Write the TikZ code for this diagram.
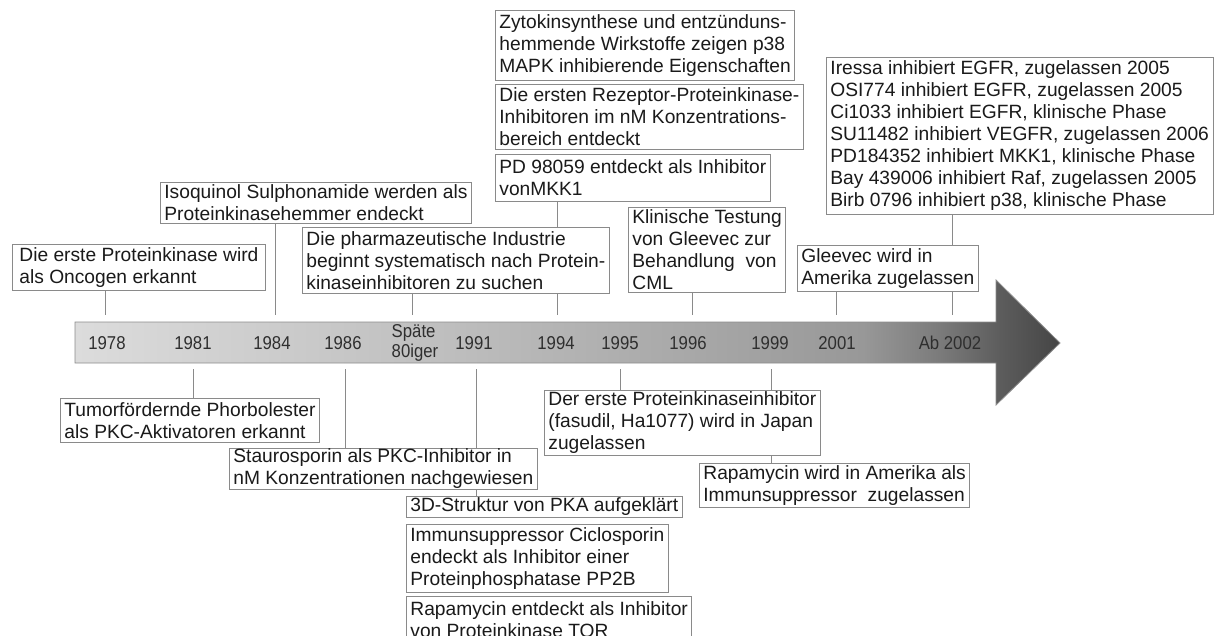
\documentclass[tikz,border=0pt]{standalone}
\usepackage{fontspec}
\usepackage{tikz}
\usetikzlibrary{positioning}
\newfontfamily\boxfont{Liberation Sans}
\newfontfamily\yearfont[FakeStretch=0.9]{Liberation Sans}
\definecolor{boxline}{HTML}{8A8A8A}
\definecolor{tickline}{HTML}{8A8A8A}
\definecolor{boxtext}{HTML}{1A1A1A}
\definecolor{yeartext}{HTML}{2E2E2E}
\definecolor{arrowline}{HTML}{8C8C8C}
\definecolor{tlA}{HTML}{DCDCDC}
\definecolor{tlB}{HTML}{BEBEBE}
\definecolor{tlC}{HTML}{989898}
\definecolor{tlD}{HTML}{7A7A7A}
\definecolor{tlE}{HTML}{5C5C5C}
\definecolor{tlF}{HTML}{454545}
\pgfdeclarehorizontalshading{timeline}{100bp}{color(0bp)=(tlA); color(25bp)=(tlA); color(44bp)=(tlB); color(65bp)=(tlC); color(69bp)=(tlD); color(72bp)=(tlE); color(75bp)=(tlF); color(100bp)=(tlF)}

\begin{document}
\begin{tikzpicture}[x=1pt,y=-1pt,
  box/.style={draw=boxline,line width=0.8pt,fill=white,anchor=north west,align=left,inner xsep=4pt,inner ysep=0.5pt,text=boxtext,font={\boxfont\fontsize{19.2}{22}\selectfont}},
  yr/.style={text=yeartext,inner sep=0pt,font={\yearfont\fontsize{18.6}{19.5}\selectfont}},
  tick/.style={draw=tickline,line width=0.8pt}]
\useasboundingbox (0,0) rectangle (1217,635);
\clip (0,0) rectangle (1217,635);
% timeline arrow
\shade[shading=timeline,draw=arrowline,line width=0.8pt] (75,322) -- (996,322) -- (996,280) -- (1060,343) -- (996,405) -- (996,363) -- (75,363) -- cycle;
% years
\node[yr] (y1978) at (107,343) {1978};
\node[yr] (y1981) at (193,343) {1981};
\node[yr] (y1984) at (272,343) {1984};
\node[yr] (y1986) at (343,343) {1986};
\node[yr,align=left] (y80) at (415,343) {Späte\\80iger};
\node[yr] (y1991) at (474,343) {1991};
\node[yr] (y1994) at (556,343) {1994};
\node[yr] (y1995) at (620,343) {1995};
\node[yr] (y1996) at (688,343) {1996};
\node[yr] (y1999) at (770,343) {1999};
\node[yr] (y2001) at (837,343) {2001};
\node[yr] (y2002) at (950,343) {Ab 2002};
% tick ends
\coordinate (t1978) at (105,315);
\coordinate (t1984) at (275,315);
\coordinate (tSp) at (412,315);
\coordinate (t1994) at (557,315);
\coordinate (t1996) at (692,315);
\coordinate (t2001) at (836,315);
\coordinate (t2002) at (952,315);
\coordinate (b1981) at (193,369);
\coordinate (b1986) at (345,369);
\coordinate (b1991) at (476,369);
\coordinate (b1995) at (620,369);
\coordinate (b1999) at (771,369);
% upper boxes
\node[box,inner xsep=7pt,minimum height=46pt] (erste) at (12,244) {Die erste Proteinkinase wird\\als Oncogen erkannt};
\node[box,minimum height=41pt] (isoq) at (160,182) {Isoquinol Sulphonamide werden als\\Proteinkinasehemmer endeckt};
\node[box,minimum height=66pt] (pharma) at (302,227) {Die pharmazeutische Industrie\\beginnt systematisch nach Protein-\\kinaseinhibitoren zu suchen};
\node[box,minimum height=70pt] (zyto) at (495,10) {Zytokinsynthese und entzünduns-\\hemmende Wirkstoffe zeigen p38\\MAPK inhibierende Eigenschaften};
\node[box,below=3pt of zyto.south west,anchor=north west,minimum height=65pt] (rezep) {Die ersten Rezeptor-Proteinkinase-\\Inhibitoren im nM Konzentrations-\\bereich entdeckt};
\node[box,below=4pt of rezep.south west,anchor=north west,minimum height=47pt] (pd) {PD 98059 entdeckt als Inhibitor\\vonMKK1};
\node[box,minimum height=85pt] (klin) at (628,207) {Klinische Testung\\von Gleevec zur\\Behandlung~~von\\CML};
\node[box,minimum height=46pt] (gleevec) at (797,245) {Gleevec wird in\\Amerika zugelassen};
\node[box,minimum height=157pt] (iressa) at (826,57) {Iressa inhibiert EGFR, zugelassen 2005\\OSI774 inhibiert EGFR, zugelassen 2005\\Ci1033 inhibiert EGFR, klinische Phase\\SU11482 inhibiert VEGFR, zugelassen 2006\\PD184352 inhibiert MKK1, klinische Phase\\Bay 439006 inhibiert Raf, zugelassen 2005\\Birb 0796 inhibiert p38, klinische Phase};
% lower boxes
\node[box,minimum height=44pt] (tumor) at (60,398) {Tumorfördernde Phorbolester\\als PKC-Aktivatoren erkannt};
\node[box,minimum height=41pt] (stauro) at (229,448) {Staurosporin als PKC-Inhibitor in\\nM Konzentrationen nachgewiesen};
\node[box,minimum height=21pt] (d3) at (406,496) {3D-Struktur von PKA aufgeklärt};
\node[box,below=6pt of d3.south west,anchor=north west,minimum height=68pt] (immun) {Immunsuppressor Ciclosporin\\endeckt als Inhibitor einer\\Proteinphosphatase PP2B};
\node[box,below=3pt of immun.south west,anchor=north west,minimum height=47pt] (rapator) {Rapamycin entdeckt als Inhibitor\\von Proteinkinase TOR};
\node[box,minimum height=65pt] (fasudil) at (544,390) {Der erste Proteinkinaseinhibitor\\(fasudil, Ha1077) wird in Japan\\zugelassen};
\node[box,minimum height=44pt] (rapaam) at (699,463) {Rapamycin wird in Amerika als\\Immunsuppressor~~zugelassen};
% connectors
\draw[tick] (erste.south -| t1978) -- (t1978);
\draw[tick] (isoq.south -| t1984) -- (t1984);
\draw[tick] (pharma.south -| tSp) -- (tSp);
\draw[tick] (pd.south -| t1994) -- (pharma.north -| t1994);
\draw[tick] (pharma.south -| t1994) -- (t1994);
\draw[tick] (klin.south -| t1996) -- (t1996);
\draw[tick] (gleevec.south -| t2001) -- (t2001);
\draw[tick] (iressa.south -| t2002) -- (gleevec.north -| t2002);
\draw[tick] (gleevec.south -| t2002) -- (t2002);
\draw[tick] (b1981) -- (b1981 |- tumor.north);
\draw[tick] (b1986) -- (b1986 |- stauro.north);
\draw[tick] (b1991) -- (b1991 |- stauro.north);
\draw[tick] (stauro.south -| b1991) -- (d3.north -| b1991);
\draw[tick] (b1995) -- (b1995 |- fasudil.north);
\draw[tick] (b1999) -- (b1999 |- fasudil.north);
\draw[tick] (fasudil.south -| b1999) -- (rapaam.north -| b1999);
\end{tikzpicture}
\end{document}
